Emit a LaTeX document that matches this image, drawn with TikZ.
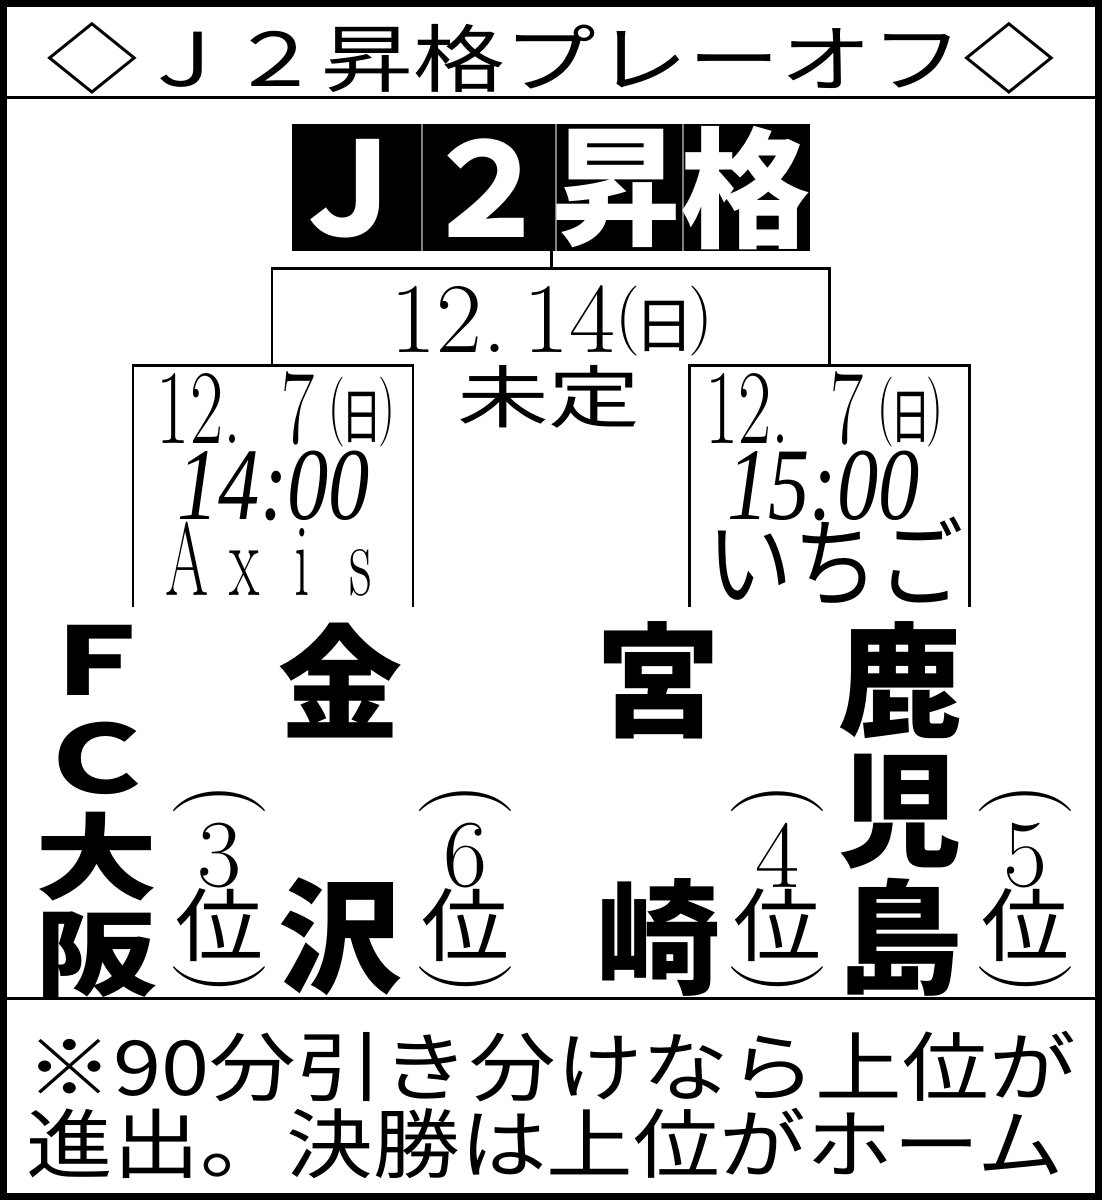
\documentclass[tikz,border=0pt]{standalone}
\usepackage{fontspec}
\newfontfamily\jp{Noto Sans CJK JP}
\newfontfamily\tms{Liberation Serif}
\newcommand\fsz[1]{\fontsize{#1}{#1}\selectfont}
% (日) built from tall parens and a small kanji
\newcommand\nichi{\raisebox{6.75pt}{\fsz{35}(}\kern-3pt\raisebox{2.5pt}{\jp\fsz{30}日}\kern-3pt\raisebox{6.75pt}{\fsz{35})}}
\newcommand\upar{\rotatebox{-90}{\fsz{46}(}}
\newcommand\dnpar{\rotatebox{-90}{\fsz{46})}}
\newcommand\cellch[1]{\makebox[48pt]{#1}}
\begin{document}
\begin{tikzpicture}[x=0.5pt, y=-0.5pt, line join=miter]
  \tikzset{
    txt/.style={inner sep=0pt, outer sep=0pt},
    bline/.style={line width=1.3pt},
    team/.style={txt, font=\jp\bfseries\fsz{62}},
    rank/.style={txt, font=\jp\fsz{40}},
    day/.style={txt, anchor=base west},
  }
  % Khung ngoài
  \fill[white] (0,0) rectangle (1102,1200);
  \draw[line width=3.5pt] (3.5,3) rectangle (1098.5,1196.5);
  \draw[line width=1.5pt] (7,97) -- (1095,97);
  \draw[line width=1.5pt] (7,998) -- (1095,998);
  % Tiêu đề
  \node[txt] (title) at (551,58) {\scalebox{1.24}[1]{\jp\fsz{37}◇Ｊ２昇格プレーオフ◇}};
  % Hộp đen
  \fill (292,124) rectangle (810,251);
  \foreach \x in {422,556,683}
    \draw[gray, line width=1pt] (\x,124) -- (\x,251);
  \foreach \c/\x [count=\i] in {Ｊ/350,２/487,昇/617,格/746}
    \node[txt, text=white, font=\jp\bfseries\fsz{65}] (cell\i) at (\x,188) {\c};
  % Nhánh đấu
  \coordinate (stem) at (552,251);
  \coordinate (fin) at (552,268);
  \coordinate (finL) at (272,268);
  \coordinate (finR) at (830,268);
  \coordinate (semL) at (272,365);
  \coordinate (semR) at (830,365);
  \draw[bline] (stem) -- (fin);
  \draw[bline] (semL) -- (finL) -- (finR) -- (semR);
  \draw[bline] (133,607) -- (133,365) -- (413,365) -- (413,607);
  \draw[bline] (690,607) -- (690,365) -- (970,365) -- (970,607);
  % Ngày giờ
  \node[txt, anchor=base, font=\fsz{50}] (dfin) at (552,352) {12.\hspace{8pt}14\nichi};
  \node[txt] (tbd) at (549,396) {\scalebox{1.35}[1]{\jp\fsz{34}未定}};
  \node[day] (dL) at (157,443) {\scalebox{0.68}[1]{\fsz{53}12.\hspace{30pt}7\hspace{10pt}\nichi}};
  \node[txt] (tL) at (274,486) {\scalebox{0.8}[1]{\tms\itshape\fsz{51.5}14:00}};
  \node[txt] (vL) at (274,559) {\scalebox{0.6}[1]{\fsz{52}\cellch{A}\cellch{x}\cellch{i}\cellch{s}}};
  \node[day] (dR) at (706,443) {\scalebox{0.68}[1]{\fsz{53}12.\hspace{30pt}7\hspace{10pt}\nichi}};
  \node[txt] (tR) at (824,486) {\scalebox{0.8}[1]{\tms\itshape\fsz{51.5}15:00}};
  \node[txt] (vR) at (836,561) {\scalebox{0.87}[1]{\jp\fsz{49}いちご}};
  % Đội
  \foreach \c/\y [count=\i] in {Ｆ/660,Ｃ/758,大/856,阪/955}
    \node[txt] (osaka\i) at (97,\y) {\scalebox{1.3}[1]{\jp\bfseries\fsz{47}\c}};
  \node[team] (kana1) at (341,680) {金};
  \node[team] (kana2) at (341,937) {沢};
  \node[team] (miya1) at (659,680) {宮};
  \node[team] (miya2) at (659,937) {崎};
  \foreach \c/\y [count=\i] in {鹿/680,児/812,島/937}
    \node[team] (kago\i) at (901,\y) {\c};
  % Thứ hạng
  \foreach \x/\n in {220/3,466/6,778/4,1026/5} {
    \node[txt] (rk\n a) at (\x,800) {\upar};
    \node[txt, font=\fsz{48}] (rk\n b) at (\x,855) {\n};
    \node[rank] (rk\n c) at (\x,925) {\scalebox{1.1}[1]{位}};
    \node[txt] (rk\n d) at (\x,979) {\dnpar};
  }
  % Ghi chú
  \node[txt, anchor=west] (note1) at (27,1067) {\scalebox{1.14}[1]{\jp\fsz{38}※90分引き分けなら上位が}};
  \node[txt, anchor=west] (note2) at (27,1143) {\scalebox{1.14}[1]{\jp\fsz{38}進出。決勝は上位がホーム}};
\end{tikzpicture}
\end{document}
